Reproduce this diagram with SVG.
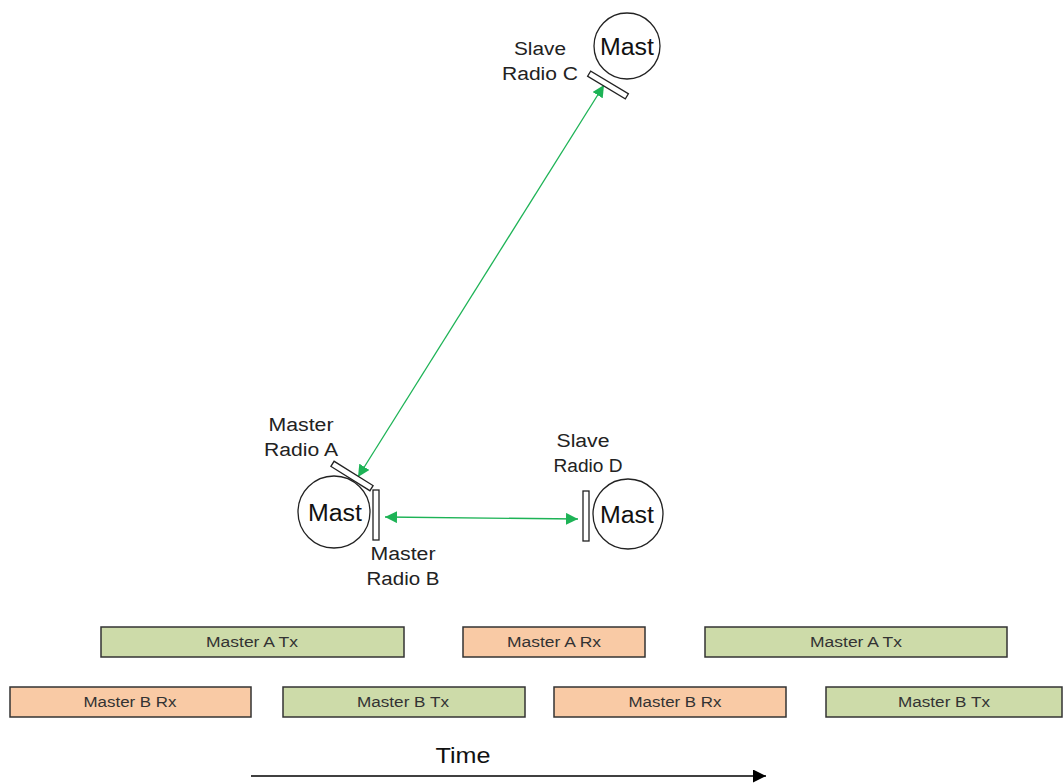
<svg xmlns="http://www.w3.org/2000/svg" width="1063" height="783" viewBox="0 0 1063 783">
<defs>
<style>
.mast{fill:#fff;stroke:#222;stroke-width:1.3}
.radio{fill:#fff;stroke:#222;stroke-width:1.3}
.mt{font-family:"Liberation Sans",Arial,sans-serif;font-size:23px;fill:#111;text-anchor:middle}
.lbl{font-family:"Liberation Sans",Arial,sans-serif;font-size:18px;fill:#222;text-anchor:middle}
.bar{stroke:#333;stroke-width:1.5}
.tx{fill:#cddba9}
.rx{fill:#f9caa5}
.bt{font-family:"Liberation Sans",Arial,sans-serif;font-size:15.5px;fill:#333;text-anchor:middle}
.link{stroke:#1db356;stroke-width:1.3;fill:none}
</style>
<marker id="ga" viewBox="0 0 10 10" refX="10" refY="5" markerWidth="12" markerHeight="12" markerUnits="userSpaceOnUse" orient="auto-start-reverse">
<path d="M0,0 L10,5 L0,10 z" fill="#1db356"/>
</marker>
<marker id="ka" viewBox="0 0 10 10" refX="10" refY="5" markerWidth="13" markerHeight="13" markerUnits="userSpaceOnUse" orient="auto">
<path d="M0,0 L10,5 L0,10 z" fill="#000"/>
</marker>
</defs>
<rect width="1063" height="783" fill="#fff"/>

<g id="connectors">
<line class="link" x1="604" y1="85" x2="358" y2="477" marker-start="url(#ga)" marker-end="url(#ga)"/>
<line class="link" x1="385" y1="517" x2="578" y2="519" marker-start="url(#ga)" marker-end="url(#ga)"/>
</g>

<g id="mastC">
<circle class="mast" cx="627" cy="46" r="33"/>
<text class="mt" x="627" y="55" textLength="54" lengthAdjust="spacingAndGlyphs">Mast</text>
<rect class="radio" x="586" y="82" width="44" height="6" transform="rotate(31 608 85)"/>
<text class="lbl" x="540" y="55" textLength="52" lengthAdjust="spacingAndGlyphs">Slave</text>
<text class="lbl" x="540" y="80" textLength="76" lengthAdjust="spacingAndGlyphs">Radio C</text>
</g>

<g id="mastA">
<circle class="mast" cx="334" cy="512" r="36"/>
<text class="mt" x="335" y="521" textLength="54" lengthAdjust="spacingAndGlyphs">Mast</text>
<rect class="radio" x="329" y="473" width="46" height="6" transform="rotate(32 352 476)"/>
<rect class="radio" x="373" y="490" width="6" height="50"/>
<text class="lbl" x="301" y="431" textLength="65" lengthAdjust="spacingAndGlyphs">Master</text>
<text class="lbl" x="301" y="456" textLength="74" lengthAdjust="spacingAndGlyphs">Radio A</text>
<text class="lbl" x="403" y="560" textLength="65" lengthAdjust="spacingAndGlyphs">Master</text>
<text class="lbl" x="403" y="585" textLength="73" lengthAdjust="spacingAndGlyphs">Radio B</text>
</g>

<g id="mastD">
<circle class="mast" cx="628" cy="514" r="35"/>
<text class="mt" x="627" y="523" textLength="54" lengthAdjust="spacingAndGlyphs">Mast</text>
<rect class="radio" x="583" y="491" width="6" height="50"/>
<text class="lbl" x="583" y="447" textLength="53" lengthAdjust="spacingAndGlyphs">Slave</text>
<text class="lbl" x="588" y="472" textLength="69" lengthAdjust="spacingAndGlyphs">Radio D</text>
</g>

<g id="barA1"><rect class="bar tx" x="101" y="627" width="303" height="30"/><text class="bt" x="252" y="647" textLength="92" lengthAdjust="spacingAndGlyphs">Master A Tx</text></g>
<g id="barA2"><rect class="bar rx" x="463" y="627" width="182" height="30"/><text class="bt" x="554" y="647" textLength="94" lengthAdjust="spacingAndGlyphs">Master A Rx</text></g>
<g id="barA3"><rect class="bar tx" x="705" y="627" width="302" height="30"/><text class="bt" x="856" y="647" textLength="92" lengthAdjust="spacingAndGlyphs">Master A Tx</text></g>
<g id="barB1"><rect class="bar rx" x="10" y="687" width="241" height="30"/><text class="bt" x="130" y="707" textLength="93" lengthAdjust="spacingAndGlyphs">Master B Rx</text></g>
<g id="barB2"><rect class="bar tx" x="283" y="687" width="242" height="30"/><text class="bt" x="403" y="707" textLength="92" lengthAdjust="spacingAndGlyphs">Master B Tx</text></g>
<g id="barB3"><rect class="bar rx" x="554" y="687" width="232" height="30"/><text class="bt" x="675" y="707" textLength="93" lengthAdjust="spacingAndGlyphs">Master B Rx</text></g>
<g id="barB4"><rect class="bar tx" x="826" y="687" width="236" height="30"/><text class="bt" x="944" y="707" textLength="92" lengthAdjust="spacingAndGlyphs">Master B Tx</text></g>

<g id="time">
<text x="463" y="763" font-family="'Liberation Sans',Arial,sans-serif" font-size="22" fill="#111" text-anchor="middle" textLength="55" lengthAdjust="spacingAndGlyphs">Time</text>
<line x1="251" y1="776" x2="766" y2="776" stroke="#000" stroke-width="1.5" marker-end="url(#ka)"/>
</g>
</svg>
